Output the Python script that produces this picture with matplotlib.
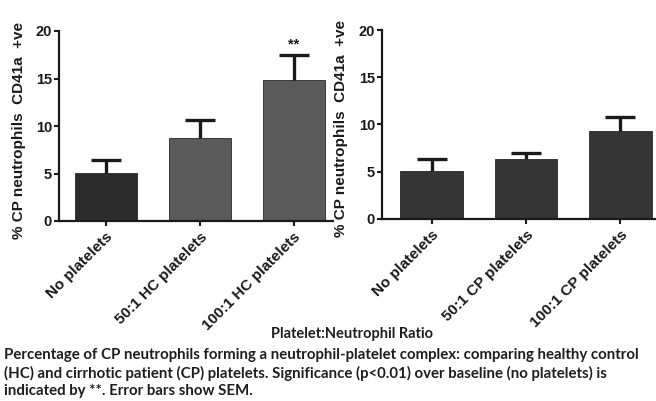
import matplotlib
matplotlib.use("Agg")
import matplotlib.pyplot as plt

# Data
hc_labels = ["No platelets", "50:1 HC platelets", "100:1 HC platelets"]
hc_values = [5.1, 8.7, 14.8]
hc_sem = [1.3, 1.9, 2.7]
hc_colors = ["#2c2c2c", "#5a5a5a", "#5a5a5a"]

cp_labels = ["No platelets", "50:1 CP platelets", "100:1 CP platelets"]
cp_values = [5.05, 6.3, 9.3]
cp_sem = [1.35, 0.7, 1.5]
cp_colors = ["#353535", "#353535", "#353535"]

yticks = [0, 5, 10, 15, 20]
ylabel = "% CP neutrophils  CD41a  +ve"
xlabel = "Platelet:Neutrophil Ratio"
caption_lines = [
    "Percentage of CP neutrophils forming a neutrophil-platelet complex: comparing healthy control",
    "(HC) and cirrhotic patient (CP) platelets. Significance (p<0.01) over baseline (no platelets) is",
    "indicated by **. Error bars show SEM.",
]

W, H = 656, 401
fig = plt.figure(figsize=(W / 100, H / 100), dpi=100)

ytick_font = dict(family="Liberation Sans", weight="bold", size=10.5)
xtick_font = dict(family="Liberation Sans", weight="bold", size=11)


def make_panel(rect, labels, values, sem, colors, xlim, label_x):
    ax = fig.add_axes(rect)
    x = list(range(len(values)))
    ax.bar(x, values, width=0.66, color=colors, edgecolor="#262626", linewidth=0.6, zorder=3)
    ax.errorbar(x, values, yerr=sem, fmt="none", ecolor="#1a1a1a",
                elinewidth=2.4, capsize=11, capthick=2.4, zorder=2)
    ax.set_ylim(0, 20)
    ax.set_xlim(*xlim)
    ax.set_yticks(yticks)
    ax.set_yticklabels([str(t) for t in yticks], fontdict=ytick_font)
    ax.set_xticks(x)
    ax.set_xticklabels(labels, fontdict=xtick_font, rotation=45, ha="right",
                       va="top", rotation_mode="anchor")
    for s in ["top", "right"]:
        ax.spines[s].set_visible(False)
    for s in ["left", "bottom"]:
        ax.spines[s].set_linewidth(1.6)
        ax.spines[s].set_color("#1a1a1a")
        ax.spines[s].set_zorder(4)
    ax.tick_params(axis="both", direction="out", length=3.5, width=1.5, colors="#1a1a1a", pad=1.5)
    ax.tick_params(axis="x", pad=3)
    fig.text(label_x, rect[1] + rect[3] / 2 - 0.01, ylabel, rotation=90, ha="center", va="center",
             fontfamily="Liberation Sans", fontweight="bold", fontsize=11, color="#1a1a1a")
    return ax


ax1 = make_panel([59 / W, 1 - 221 / H, 274 / W, 190 / H], hc_labels, hc_values, hc_sem,
                 hc_colors, (-0.50, 2.42), 19 / W)
ax1.text(2, hc_values[2] + hc_sem[2] + 0.3, "**", ha="center", va="bottom",
         fontfamily="Liberation Sans", fontweight="bold", fontsize=10.5, color="#1a1a1a")

ax2 = make_panel([382 / W, 1 - 219 / H, 274 / W, 189 / H], cp_labels, cp_values, cp_sem,
                 cp_colors, (-0.524, 2.376), 341 / W)

fig.text(352 / W, 1 - 334 / H, xlabel, ha="center", va="center",
         fontfamily="Lato", fontweight="bold", fontsize=10.5, color="#1e1e1e")
for i, line in enumerate(caption_lines):
    fig.text(4 / W, 1 - (355 + 18 * i) / H, line, ha="left", va="center", fontfamily="Lato",
             fontweight="bold", fontsize=10.8, color="#1e1e1e")

fig.savefig("out.png", dpi=100)
